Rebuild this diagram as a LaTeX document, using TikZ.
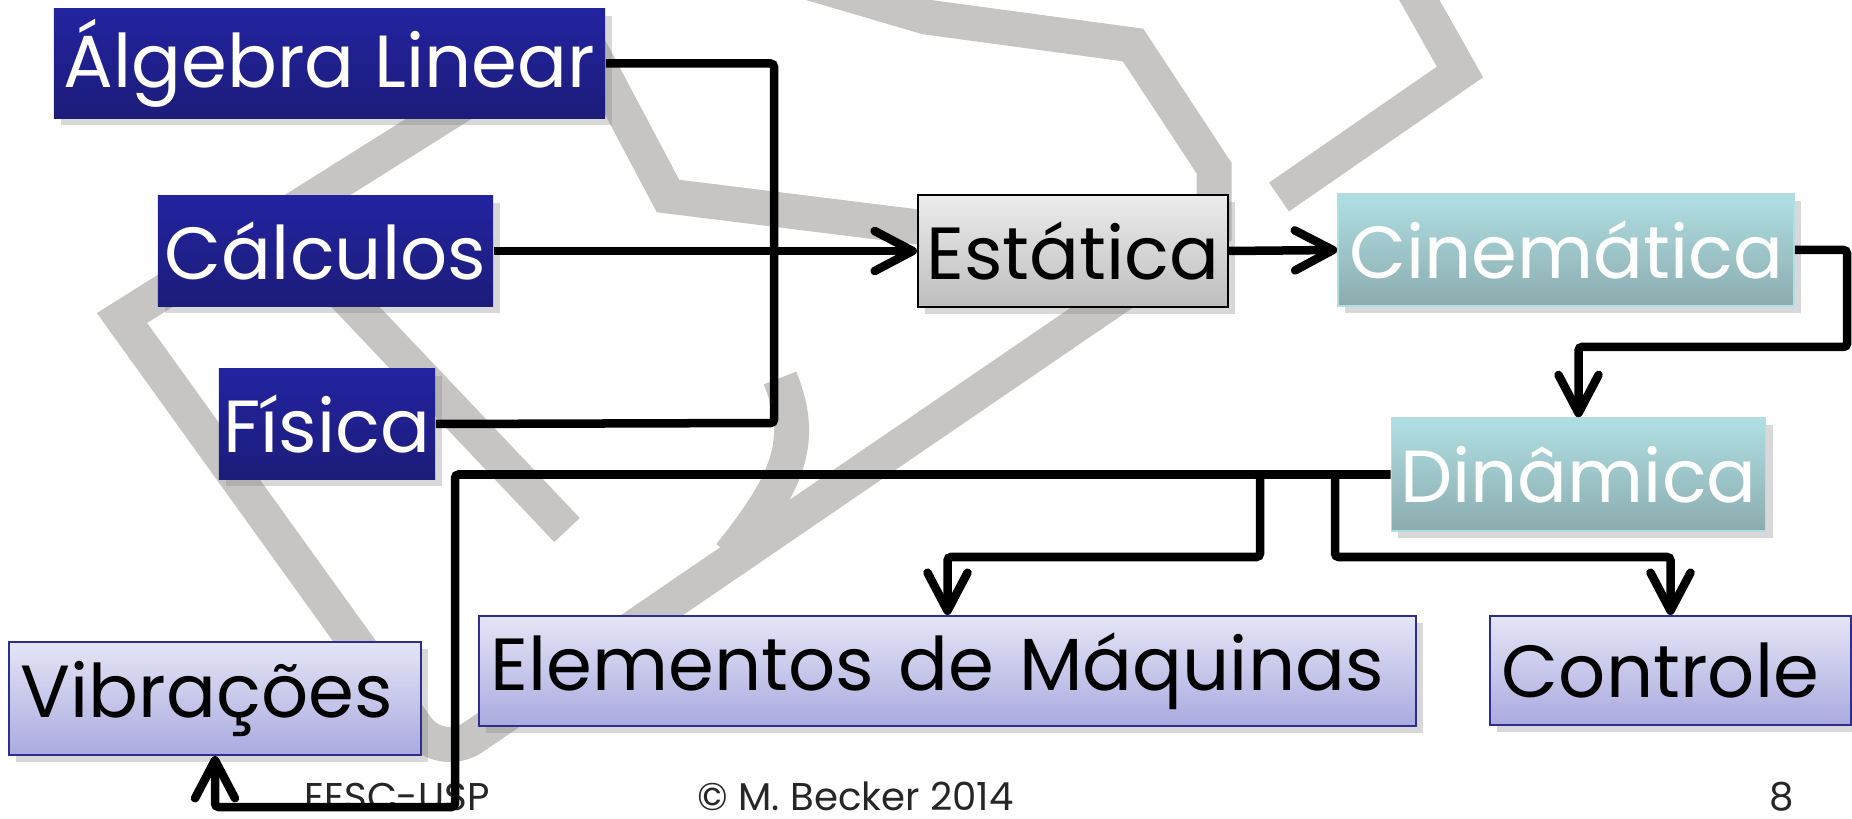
\documentclass[tikz,border=0pt]{standalone}
\usepackage{fontspec}
\setmainfont{Poppins}
\usetikzlibrary{arrows.meta,shadows}

\definecolor{blueT}{RGB}{35,35,160}
\definecolor{blueB}{RGB}{28,28,122}
\definecolor{tealT}{RGB}{176,223,227}
\definecolor{tealB}{RGB}{139,172,175}
\definecolor{lilacT}{RGB}{229,229,246}
\definecolor{lilacB}{RGB}{170,170,224}
\definecolor{lilacline}{RGB}{46,46,145}
\definecolor{greyT}{RGB}{236,236,236}
\definecolor{greyB}{RGB}{190,190,190}
\definecolor{wm}{RGB}{198,197,196}

\begin{document}
\begin{tikzpicture}[x=0.01cm, y=-0.01cm,
        box/.style={rectangle, inner sep=0pt, font=\fontsize{21}{25}\selectfont,
          drop shadow={shadow xshift=2pt, shadow yshift=-2pt, opacity=0.3}},
        basebox/.style={box, top color=blueT, bottom color=blueB, text=white},
        midbox/.style={box, top color=tealT, bottom color=tealB, draw=tealT, text=white},
        statbox/.style={box, top color=greyT, bottom color=greyB, draw=black,
          line width=0.02cm, text=black},
        applbox/.style={box, top color=lilacT, bottom color=lilacB, draw=lilacline,
          line width=0.02cm, text=black, inner xsep=0.12cm, align=left},
        footer/.style={inner sep=0pt, anchor=base west, text=black!85,
          font=\fontsize{11}{13}\selectfont},
        link/.style={line width=0.085cm, black, rounded corners=1pt},
        arrow/.style={link, -{Straight Barb[length=3.8mm, width=4mm, round]}},
        wmark/.style={line width=0.35cm, wm, line join=miter}]

        \useasboundingbox [fill=white] (0,0) rectangle (1852,819);

        % watermark
        \draw [wmark] (800,-20) -- (926,17) -- (1133,45) -- (1214,168) -- (1214,231)
          [rounded corners=0.4cm] -- (440,760) [sharp corners] -- (122,318) -- (580,30);
        \draw [wmark] (580,30) -- (668,196) -- (926,228) -- (1100,250);
        \draw [wmark] (1408,-20) -- (1460,72) -- (1279,197);
        \draw [wmark] (275,222) -- (567,530);
        \draw [wmark] (780,378) .. controls (805,440) and (790,480) .. (730,555);

        \node [basebox, minimum width=5.51cm, minimum height=1.09cm] (alg) at (329.5,63.5) {Álgebra Linear};
        \node [basebox, minimum width=3.35cm, minimum height=1.10cm] (calc) at (325.5,251) {Cálculos};
        \node [basebox, minimum width=2.16cm, minimum height=1.10cm] (fis) at (327,424) {Física};
        \node [statbox, minimum width=3.10cm, minimum height=1.12cm] (est) at (1073,251) {Estática};
        \node [midbox, minimum width=4.56cm, minimum height=1.12cm] (cin) at (1566,250) {Cinemática};
        \node [midbox, minimum width=3.74cm, minimum height=1.13cm] (din) at (1578.5,474.5) {Dinâmica};
        \node [applbox, text width=3.88cm, minimum height=1.13cm] (vib) at (215,698.5) {Vibrações};
        \node [applbox, text width=9.13cm, minimum height=1.10cm] (elem) at (947.5,671) {Elementos de Máquinas};
        \node [applbox, text width=3.37cm, minimum height=1.09cm] (ctrl) at (1670.5,670.5) {Controle};

        \node [footer] (eesc) at (304,810) {EESC-USP};
        \node [footer] (copy) at (697,810) {© M. Becker 2014};
        \node [footer] (page) at (1769,810) {8};

        \coordinate (j1) at (774,423);
        \coordinate (c1) at (1847,347);
        \coordinate (d1) at (455,807);
        \coordinate (e1) at (1260,557);
        \coordinate (k1) at (1335,557);

        \draw [link] (alg.east) -| (j1) -- (fis.east);
        \draw [arrow] (calc.east) -- (est.west);
        \draw [arrow] (est.east) -- (cin.west);
        \draw [arrow] (cin.east) -| (c1) -| (din.north);
        \draw [arrow] (din.west) -| (d1) -| (vib.south);
        \draw [arrow] (e1 |- din.west) -- (e1) -| (elem.north);
        \draw [arrow] (k1 |- din.west) -- (k1) -| (ctrl.north);
\end{tikzpicture}
\end{document}
